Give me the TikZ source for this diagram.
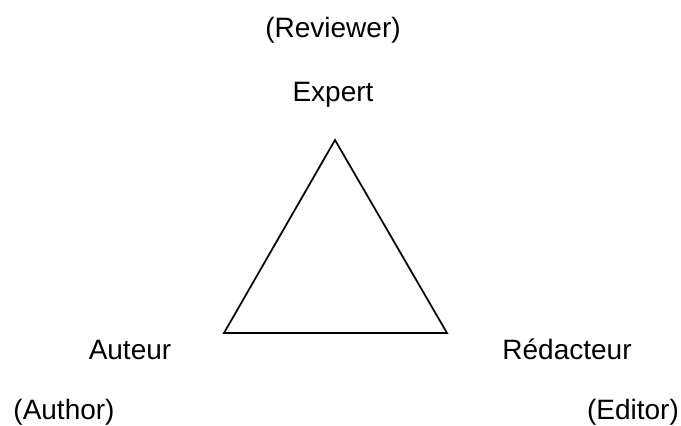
\documentclass[tikz,border=0pt]{standalone}
\usepackage{fontspec}
\setmainfont{Liberation Sans}
\usetikzlibrary{positioning}

\begin{document}
\begin{tikzpicture}[
    x=0.75pt, y=-0.75pt,
    role/.style={anchor=base, inner sep=0pt, font=\fontsize{21}{25}\selectfont},
    side/.style={line width=1.3pt, line join=miter},
]
\useasboundingbox (0,0) rectangle (681,425);

% Roles
\node[role] (revEn) at (333,37) {(Reviewer)};
\node[role] (expert) at (333,101) {Expert};
\node[role] (auteur) at (130,359) {Auteur};
\node[role] (autEn) at (64,419) {(Author)};
\node[role] (redac) at (567,359) {Rédacteur};
\node[role] (edEn) at (633,419) {(Editor)};

% Triangle
\coordinate (top) at (335,140);
\coordinate (left) at (224,333);
\coordinate (right) at (447,333);
\draw[side] (top) -- (left) -- (right) -- cycle;

\end{tikzpicture}
\end{document}
